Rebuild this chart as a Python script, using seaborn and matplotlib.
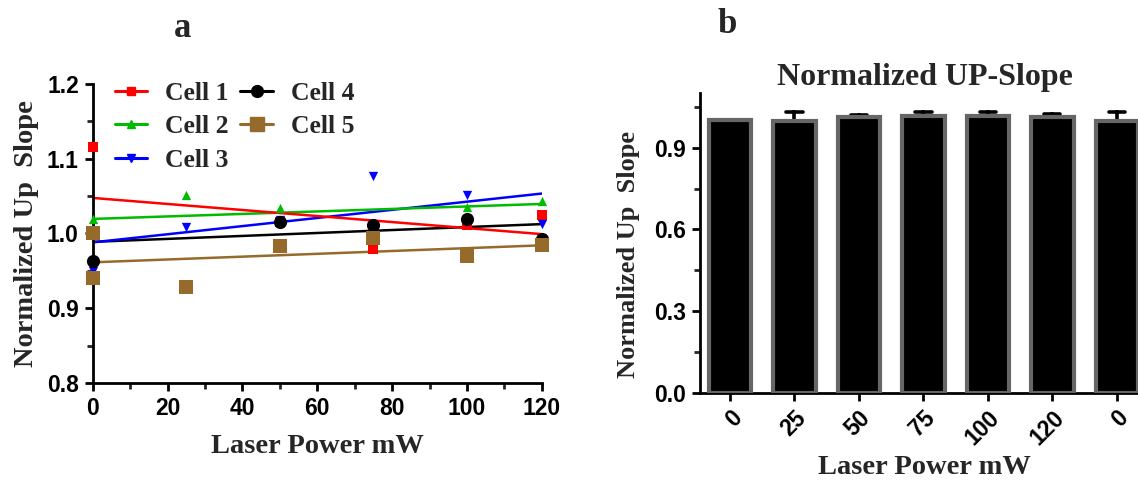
import numpy as np
import pandas as pd
import matplotlib
matplotlib.use('Agg')
import matplotlib.pyplot as plt
from matplotlib.lines import Line2D
from matplotlib.ticker import MultipleLocator
import seaborn as sns

# laser power for each recording (the last one is the recovery at 0 mW)
power = [0, 25, 50, 75, 100, 120, 0]
power_labels = ['0', '25', '50', '75', '100', '120', '0']

cell1 = [1.0, np.nan, 1.015, 0.979, 1.011, 1.025, 1.116]
cell2 = [1.0, 1.052, 1.034, 1.013, 1.036, 1.043, 1.020]
cell3 = [1.0, 1.008, 1.018, 1.077, 1.052, 1.013, 0.950]
cell4 = [1.0, np.nan, 1.016, 1.011, 1.019, 0.992, 0.963]
cell5 = [1.0, 0.929, 0.983, 0.994, 0.970, 0.984, 0.940]

cell_names = ['Cell 1', 'Cell 2', 'Cell 3', 'Cell 4', 'Cell 5']
cell_values = [cell1, cell2, cell3, cell4, cell5]
cell_colors = ['#ff0000', '#00bb00', '#0000ff', '#000000', '#966a2a']
cell_markers = ['s', '^', 'v', 'o', 's']
cell_sizes = [50, 45, 45, 90, 110]
legend_sizes = [6, 6, 6, 8.5, 10]

sns.set_style('white')
serif = ['Liberation Serif', 'DejaVu Serif']
sans = ['Liberation Sans', 'DejaVu Sans']
plt.rcParams['font.family'] = sans
plt.rcParams['font.weight'] = 'bold'

fig = plt.figure(figsize=(11.38, 4.8), dpi=100)
ax1 = fig.add_axes([0.0815, 0.2021, 0.3946, 0.623])
ax2 = fig.add_axes([0.6151, 0.1819, 0.3947, 0.6238])

# Part a - regression of each cell
for i in [4, 3, 2, 1, 0]:
    sns.regplot(x=power, y=cell_values[i], ci=None, ax=ax1,
                color=cell_colors[i], marker=cell_markers[i],
                scatter_kws=dict(s=cell_sizes[i], clip_on=False, alpha=1,
                                 linewidths=0, zorder=3 + i),
                line_kws=dict(lw=1.8, zorder=2))

ax1.set_xlim(0, 120)
ax1.set_ylim(0.8, 1.2)
ax1.xaxis.set_major_locator(MultipleLocator(20))
ax1.xaxis.set_minor_locator(MultipleLocator(10))
ax1.yaxis.set_major_locator(MultipleLocator(0.1))
ax1.yaxis.set_minor_locator(MultipleLocator(0.05))
ax1.set_yticks([0.8, 0.9, 1.0, 1.1, 1.2])
ax1.set_yticklabels(['0.8', '0.9', '1.0', '1.1', '1.2'])
ax1.set_xlabel('Laser Power mW', family=serif, fontsize=20.5, fontweight='bold', labelpad=10)
ax1.set_ylabel('Normalized Up  Slope', family=serif, fontsize=20.5, fontweight='bold', labelpad=6)

handles = [Line2D([], [], color=c, marker=m, markersize=ms, lw=2.2)
           for c, m, ms in zip(cell_colors, cell_markers, legend_sizes)]
ax1.legend(handles, cell_names, ncol=2, frameon=False, loc='upper left',
           bbox_to_anchor=(0.05, 1.008), borderpad=0, borderaxespad=0,
           prop=dict(family=serif, weight='bold', size=18.5),
           handlelength=1.25, labelspacing=0.41, columnspacing=0.45, handletextpad=0.7)
ax1.text(0.199, 1.157, 'a', transform=ax1.transAxes, family=serif,
         fontsize=25, fontweight='bold', ha='center', va='baseline')

# Part b - mean and SEM of all cells
df = pd.DataFrame({
    'step': np.repeat(np.arange(len(power)), len(cell_values)),
    'slope': np.array(cell_values).T.ravel(),
})
sns.barplot(data=df, x='step', y='slope', errorbar='se', ax=ax2, width=0.66,
            color='black', edgecolor='#666666', linewidth=3, saturation=1,
            capsize=0.25, err_kws=dict(color='black', linewidth=2.6))
for p in ax2.patches:
    p.set_zorder(3)

ax2.set_xlim(-0.465, 6.5)
ax2.set_ylim(0, 1.1)
ax2.yaxis.set_major_locator(MultipleLocator(0.3))
ax2.yaxis.set_minor_locator(MultipleLocator(0.15))
ax2.set_yticks([0, 0.3, 0.6, 0.9])
ax2.set_yticklabels(['0.0', '0.3', '0.6', '0.9'])
ax2.set_xticks(range(len(power)))
ax2.set_xticklabels(power_labels, rotation=45, ha='right', rotation_mode='anchor')
ax2.set_xlabel('Laser Power mW', family=serif, fontsize=20.5, fontweight='bold', labelpad=4)
ax2.set_ylabel('Normalized Up  Slope', family=serif, fontsize=19, fontweight='bold')
ax2.yaxis.set_label_coords(-0.134, 0.463)
ax2.set_title('Normalized UP-Slope', family=serif, fontsize=23, fontweight='bold', pad=6)
ax2.text(0.061, 1.201, 'b', transform=ax2.transAxes, family=serif,
         fontsize=25, fontweight='bold', ha='center', va='baseline')

for ax in [ax1, ax2]:
    sns.despine(ax=ax)
    for side in ['left', 'bottom']:
        ax.spines[side].set_linewidth(2)
        ax.spines[side].set_color('black')
    ax.tick_params(which='major', direction='out', length=6, width=2,
                   labelsize=16.5, left=True, bottom=True, colors='black', pad=4)
    ax.tick_params(which='minor', direction='out', length=4, width=2,
                   left=True, bottom=True)
    for t in ax.get_xticklabels() + ax.get_yticklabels():
        t.set_fontweight('bold')

fig.savefig('out.png', dpi=100)
